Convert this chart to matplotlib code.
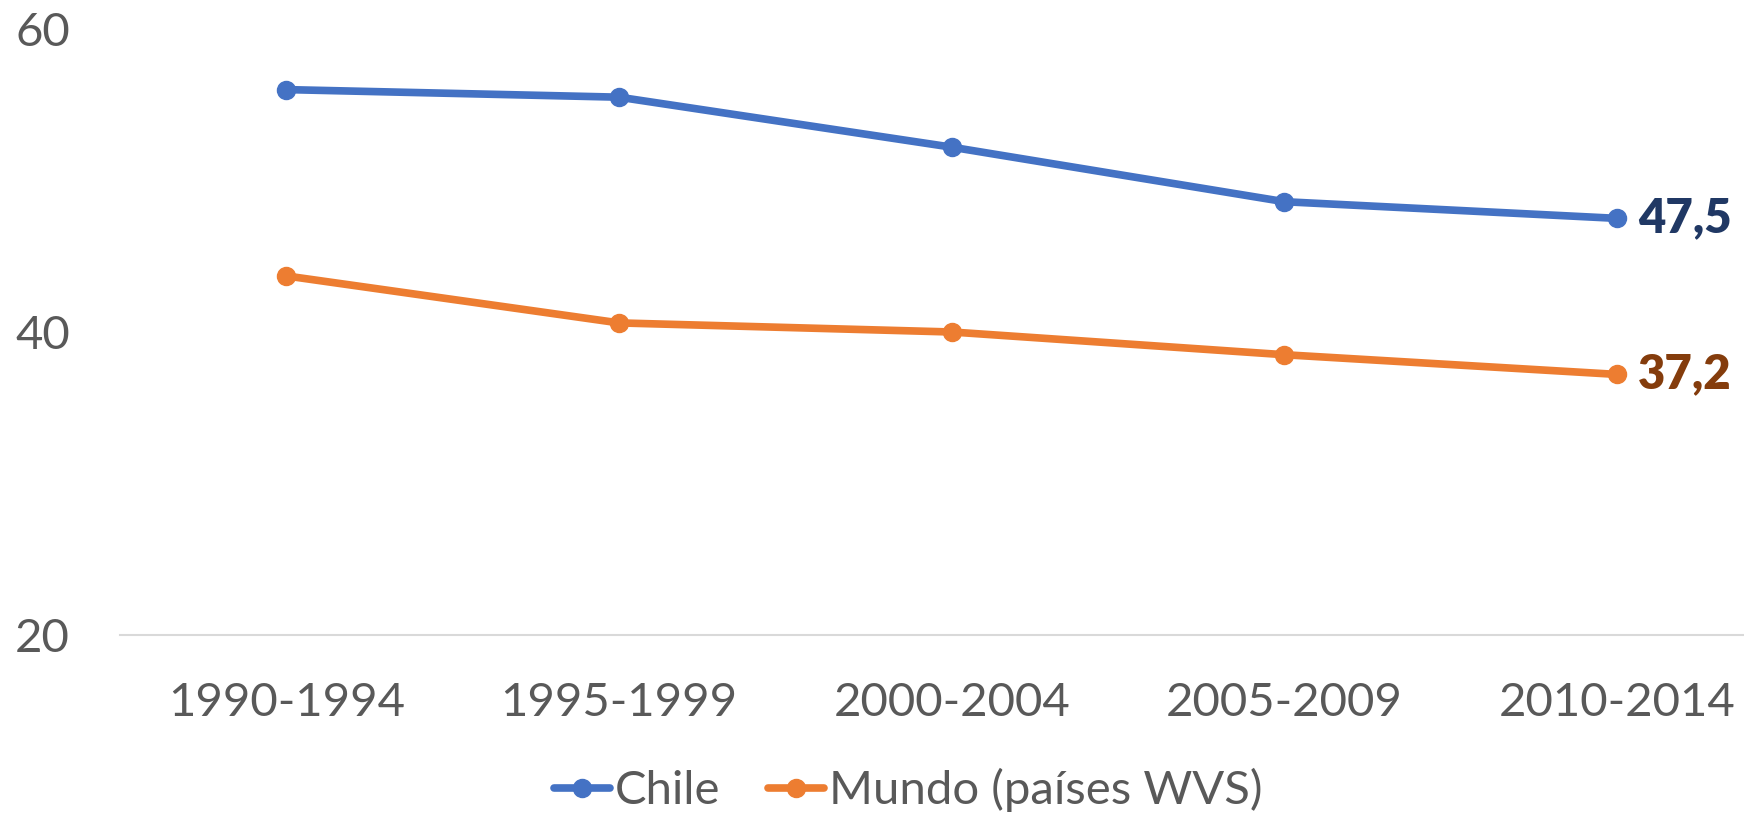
import matplotlib
matplotlib.use("Agg")
import matplotlib.pyplot as plt

# data
periods = ["1990-1994", "1995-1999", "2000-2004", "2005-2009", "2010-2014"]
chile = [56.0, 55.5, 52.2, 48.6, 47.5]
mundo = [43.7, 40.6, 40.0, 38.5, 37.2]
last_labels = ["47,5", "37,2"]

plt.rcParams['font.family'] = ['Lato', 'DejaVu Sans']

fig = plt.figure(figsize=(17.44, 8.18), dpi=100)
ax = fig.add_axes([120 / 1744, 1 - 635 / 818, 1663.5 / 1744, 606 / 818])

x = list(range(len(periods)))
ax.plot(x, chile, color="#4472C4", lw=5.5, marker="o", ms=13, label="Chile",
        solid_capstyle="round", clip_on=False)
ax.plot(x, mundo, color="#ED7D31", lw=5.5, marker="o", ms=13, label="Mundo (países WVS)",
        solid_capstyle="round", clip_on=False)

# value labels at the last point
ax.annotate(last_labels[0], (x[-1], chile[-1]), xytext=(15, 0), textcoords="offset points",
            ha="left", va="center", fontsize=34, fontweight="heavy", color="#203864")
ax.annotate(last_labels[1], (x[-1], mundo[-1]), xytext=(15, 0), textcoords="offset points",
            ha="left", va="center", fontsize=34, fontweight="heavy", color="#843C0C")

ax.set_xlim(-0.5, len(periods) - 0.5)
ax.set_ylim(20, 60)
ax.set_yticks([20, 40, 60])
ax.set_xticks(x)
ax.set_xticklabels(periods)

for s in ["top", "right", "left"]:
    ax.spines[s].set_visible(False)
ax.spines["bottom"].set_color("#D9D9D9")
ax.spines["bottom"].set_linewidth(1.5)
ax.tick_params(axis="both", length=0, labelsize=34, labelcolor="#595959")
ax.tick_params(axis="y", pad=36)
ax.tick_params(axis="x", pad=34)

fig.legend(loc="center", bbox_to_anchor=(908 / 1744, 1 - 790 / 818), ncol=2, frameon=False,
           fontsize=34, labelcolor="#595959", handlelength=1.2, handletextpad=0.1,
           columnspacing=1.0, borderpad=0)

fig.savefig("out.png", dpi=100)
